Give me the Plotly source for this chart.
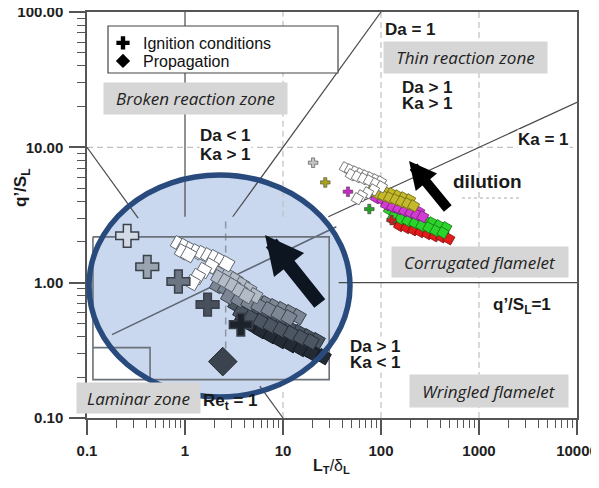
import plotly.graph_objects as go

# ---------------- data ----------------
# main diagram: ignition conditions (small coloured crosses)
ign_x = [20.3, 27, 46, 76, 128]
ign_y = [7.7, 5.5, 4.7, 3.5, 2.9]
ign_colors = ["#c4c4c4", "#a8a21c", "#c828c8", "#24a024", "#c82020"]

# main diagram: propagation bands
white_x = [43.3, 48.6, 54.7, 61.7, 69.4, 78.0, 87.9, 98.9, 49.8, 57.4, 66.2, 76.3, 87.9, 101, 83.8, 72.8, 63.1, 57.4]
white_y = [7.06, 6.82, 6.59, 6.37, 6.16, 5.96, 5.76, 5.56, 6.27, 6.06, 5.86, 5.66, 5.38, 5.11, 4.85, 4.61, 4.38, 4.17]
olive_x = [83.8, 96.5, 111, 128, 148, 170, 196, 92.0, 106, 122, 141, 162, 187, 215]
olive_y = [5.03, 4.85, 4.70, 4.54, 4.38, 4.24, 4.10, 4.54, 4.38, 4.24, 4.10, 3.96, 3.83, 3.70]
magenta_x = [89.9, 104, 119, 137, 158, 183, 210, 243, 114, 131, 151, 174, 201, 231, 267]
magenta_y = [4.24, 4.10, 3.96, 3.83, 3.70, 3.58, 3.46, 3.34, 3.77, 3.64, 3.52, 3.40, 3.29, 3.18, 3.07]
green_x = [122, 144, 170, 201, 237, 279, 330, 389, 459, 134, 158, 187, 221, 260, 307, 362, 428]
green_y = [3.46, 3.34, 3.23, 3.12, 3.02, 2.87, 2.77, 2.64, 2.55, 3.07, 2.97, 2.87, 2.77, 2.64, 2.55, 2.42, 2.34]
red_x = [134, 158, 187, 221, 260, 307, 362, 428, 155, 183, 215, 254, 300, 354, 418, 492]
red_y = [2.92, 2.82, 2.72, 2.64, 2.55, 2.46, 2.38, 2.30, 2.64, 2.55, 2.46, 2.38, 2.30, 2.22, 2.18, 2.11]

# magnified inset (as it appears on the diagram)
inset_ign_x = [0.257, 0.412, 0.857, 1.70, 3.71]
inset_ign_y = [2.22, 1.31, 1.02, 0.689, 0.490]
inset_ign_colors = ["#d3dbe7", "#9aa3b0", "#6c7582", "#48505c", "#1d232b"]
inset_prop_x = [2.43]
inset_prop_y = [0.261]
s1_x = [0.857, 0.989, 1.14, 1.31, 1.51, 1.74, 2.01, 2.31, 2.67, 0.942, 1.09, 1.83, 1.55, 1.34, 1.19]
s1_y = [1.94, 1.85, 1.75, 1.69, 1.64, 1.58, 1.53, 1.45, 1.38, 1.69, 1.61, 1.33, 1.23, 1.11, 1.00]
s2_x = [1.96, 2.31, 2.73, 3.22, 3.80, 4.48, 5.16, 2.21, 2.60, 3.07, 3.62, 4.27]
s2_y = [1.29, 1.21, 1.13, 1.05, 0.966, 0.887, 0.802, 1.09, 1.02, 0.951, 0.873, 0.802]
s3_x = [2.15, 2.60, 3.14, 3.80, 4.59, 5.54, 6.69, 8.09, 9.77, 11.8, 14.3, 2.79, 3.54, 4.48, 5.67, 7.18, 9.10, 11.5]
s3_y = [0.951, 0.904, 0.859, 0.815, 0.775, 0.736, 0.700, 0.665, 0.633, 0.601, 0.561, 0.789, 0.750, 0.711, 0.676, 0.633, 0.591, 0.552]
s4_x = [3.30, 4.07, 5.05, 6.24, 7.71, 9.53, 11.8, 14.6, 18.0, 22.3, 3.71, 4.70, 5.94, 7.53, 9.53, 12.1, 15.3, 19.4]
s4_y = [0.689, 0.643, 0.601, 0.561, 0.525, 0.490, 0.458, 0.428, 0.399, 0.373, 0.601, 0.552, 0.516, 0.482, 0.450, 0.421, 0.393, 0.367]
s5_x = [3.89, 4.81, 5.94, 7.36, 9.10, 11.2, 13.9, 17.2, 21.3, 25.7, 4.70, 5.94, 7.53, 9.53, 12.1, 15.3, 19.4]
s5_y = [0.552, 0.507, 0.466, 0.428, 0.393, 0.367, 0.343, 0.320, 0.299, 0.284, 0.490, 0.442, 0.406, 0.373, 0.348, 0.326, 0.304]

# regime boundary lines (segments visible around the inset)
re_up_x, re_up_y = [0.1, 0.333], [10, 3.0]
re_lo_x, re_lo_y = [5.8, 10], [0.172, 0.1]
da_x, da_y = [3.07, 100], [3.07, 100]
ka_x, ka_y = [29, 10000], [3.07, 21.54]
q1_x, q1_y = [37, 10000], [1, 1]
x1_x, x1_y = [1, 1], [3.07, 100]
# dashed reference lines
g10_up_x, g10_up_y = [10, 10], [3.07, 100]
g10_lo_x, g10_lo_y = [10, 10], [0.1, 0.157]
g100_x, g100_y = [100, 100], [0.1, 100]
g1000_x, g1000_y = [1000, 1000], [0.1, 100]
gy10_x, gy10_y = [0.1, 10000], [10, 10]
# inset decorations
inset_ka_x, inset_ka_y = [0.18, 35], [0.413, 2.59]
inset_dash_x, inset_dash_y = [2.6, 2.6], [0.217, 3.0]
inset_box_x = [0.115, 29.6, 29.6, 0.115, 0.115]
inset_box_y = [2.18, 2.18, 0.192, 0.192, 2.18]
inset_small_x = [0.115, 0.44, 0.44]
inset_small_y = [0.331, 0.331, 0.192]

x_ticks = [0.1, 1, 10, 100, 1000, 10000]
x_ticktext = ["0.1", "1", "10", "100", "1000", "10000"]
y_ticks = [0.1, 1, 10, 100]
y_ticktext = ["0.10", "1.00", "10.00", "100.00"]

# ---------------- figure ----------------
# the page body has an 8 px margin: the figure is drawn from (8, 8)
OFF = 8
W, H = 599, 488
L, R, T, B = 87, 577, 12, 418          # plot area in screen pixels


def px(v):
    return (v - L) / (R - L)


def py(v):
    return (B - v) / (B - T)


fig = go.Figure()


def add_line(xs, ys, color="#4a4a4a", width=1.2, dash="solid"):
    fig.add_trace(go.Scatter(x=xs, y=ys, mode="lines", hoverinfo="skip", showlegend=False,
                             line=dict(color=color, width=width, dash=dash)))


GRID = "#c0c0c0"
for gx, gy in [(g10_up_x, g10_up_y), (g10_lo_x, g10_lo_y), (g100_x, g100_y),
               (g1000_x, g1000_y), (gy10_x, gy10_y)]:
    add_line(gx, gy, GRID, 1.2, "6px,4px")

for lx, ly in [(re_up_x, re_up_y), (re_lo_x, re_lo_y), (da_x, da_y), (ka_x, ka_y),
               (q1_x, q1_y), (x1_x, x1_y)]:
    add_line(lx, ly, "#4a4a4a", 1.2)

# inset decorations
add_line(inset_dash_x, inset_dash_y, "#8d96a3", 1.5, "7px,5px")
add_line(inset_ka_x, inset_ka_y, "#5d6672", 1.6)
add_line(inset_box_x, inset_box_y, "#6b7178", 1.6)
add_line(inset_small_x, inset_small_y, "#6b7178", 1.6)


def add_band(xs, ys, fill, edge, size, lw=1.0):
    fig.add_trace(go.Scatter(x=xs, y=ys, mode="markers", showlegend=False, hoverinfo="skip",
                             marker=dict(symbol="square", angle=30, size=size, color=fill,
                                         line=dict(color=edge, width=lw))))


# inset bands (darkest first)
add_band(s5_x, s5_y, "#242a33", "#141920", 12)
add_band(s4_x, s4_y, "#4c5562", "#262c35", 12)
add_band(s3_x, s3_y, "#7c8694", "#3c434d", 12)
add_band(s2_x, s2_y, "#b3bbc7", "#59616c", 12)
add_band(s1_x, s1_y, "#ffffff", "#5f6670", 12)

fig.add_trace(go.Scatter(x=inset_prop_x, y=inset_prop_y, mode="markers", showlegend=False,
                         hoverinfo="skip",
                         marker=dict(symbol="diamond", size=22, color="#3b434e",
                                     line=dict(color="#262c35", width=1))))
fig.add_trace(go.Scatter(x=inset_ign_x, y=inset_ign_y, mode="markers", showlegend=False,
                         hoverinfo="skip",
                         marker=dict(symbol="cross", size=19, color=inset_ign_colors,
                                     line=dict(color="#3a414b", width=1.5))))

# main bands
add_band(red_x, red_y, "#e21b1b", "#7a0c0c", 9, 0.8)
add_band(green_x, green_y, "#2bd42b", "#137013", 9, 0.8)
add_band(magenta_x, magenta_y, "#d23bd2", "#6e1a6e", 9, 0.8)
add_band(olive_x, olive_y, "#c4b92a", "#6a6410", 9, 0.8)
add_band(white_x, white_y, "#ffffff", "#555555", 9, 0.8)

fig.add_trace(go.Scatter(x=ign_x, y=ign_y, mode="markers", showlegend=False, hoverinfo="skip",
                         marker=dict(symbol="cross", size=8, color=ign_colors,
                                     line=dict(color="#444444", width=0.6))))

# legend entries (one legend each, to control the row spacing)
fig.add_trace(go.Scatter(x=[None], y=[None], mode="markers", name="Ignition conditions",
                         legend="legend",
                         marker=dict(symbol="cross", size=11, color="#000")))
fig.add_trace(go.Scatter(x=[None], y=[None], mode="markers", name="Propagation",
                         legend="legend2",
                         marker=dict(symbol="diamond", size=11, color="#000")))

AX = "#555555"
fig.update_xaxes(type="log", range=[-1, 4], showgrid=False, zeroline=False, automargin=False,
                 showline=True, linecolor=AX, linewidth=1.5, mirror=True,
                 ticks="outside", ticklen=15, tickwidth=1.5, tickcolor=AX,
                 tickvals=x_ticks, ticktext=x_ticktext, ticklabelstandoff=3,
                 ticklabeloverflow="allow",
                 tickfont=dict(family="Liberation Sans", size=15, color="#1e1e1e", weight="bold"),
                 minor=dict(ticks="outside", ticklen=8, tickwidth=1.3, tickcolor=AX,
                            tickvals=[m * 10 ** e for e in range(-1, 4) for m in range(2, 10)]))
fig.update_yaxes(type="log", range=[-1, 2], showgrid=False, zeroline=False, automargin=False,
                 showline=True, linecolor=AX, linewidth=1.5, mirror=True,
                 ticks="outside", ticklen=16, tickwidth=1.5, tickcolor=AX,
                 tickvals=y_ticks, ticktext=y_ticktext, ticklabelstandoff=3,
                 ticklabeloverflow="allow",
                 tickfont=dict(family="Liberation Sans", size=15, color="#1e1e1e", weight="bold"),
                 minor=dict(ticks="outside", ticklen=8, tickwidth=1.3, tickcolor=AX,
                            tickvals=[m * 10 ** e for e in range(-1, 2) for m in range(2, 10)]))

shapes = [
    # inset lens (fill below the data, ring on top)
    dict(type="circle", xref="paper", yref="paper", x0=px(89), x1=px(350), y0=py(397), y1=py(175),
         fillcolor="#c9d8ee", line=dict(width=0), layer="below"),
    dict(type="circle", xref="paper", yref="paper", x0=px(89), x1=px(350), y0=py(397), y1=py(175),
         fillcolor="rgba(0,0,0,0)", line=dict(color="#284a7c", width=5.5), layer="above"),
    # legend frame
    dict(type="rect", xref="paper", yref="paper", x0=px(108), x1=px(338), y0=py(73), y1=py(26),
         fillcolor="white", line=dict(color="#444", width=1.2), layer="above"),
    # dotted trace under "dilution"
    dict(type="line", xref="paper", yref="paper", x0=px(462), x1=px(520), y0=py(198), y1=py(198),
         line=dict(color="#aaaaaa", width=1, dash="dot"), layer="above"),
]

annotations = []


def zone(text, x0, x1, y0, y1):
    annotations.append(dict(x=px((x0 + x1) / 2), y=py((y0 + y1) / 2), xref="paper", yref="paper",
                            xanchor="center", yanchor="middle",
                            text=text, showarrow=False, bgcolor="#d6d6d6",
                            width=x1 - x0, height=y1 - y0, borderpad=0,
                            font=dict(family="Open Sans", size=17, color="#222", style="italic")))


zone("Broken reaction zone", 104, 287, 83, 114)
zone("Thin reaction zone", 384, 547, 42, 73)
zone("Corrugated flamelet", 392, 568, 247, 277)
zone("Wringled flamelet", 410, 568, 375, 407)
zone("Laminar zone", 77, 200, 383, 413)


def label(text, x, y, size=17, bg="rgba(0,0,0,0)"):
    annotations.append(dict(x=px(x), y=py(y), xref="paper", yref="paper", text=text,
                            showarrow=False, xanchor="left", yanchor="middle", bgcolor=bg,
                            borderpad=0,
                            font=dict(family="Liberation Sans", size=size, color="#1a1a1a",
                                      weight="bold")))


label("Da = 1", 384, 29, bg="white")
label("Da > 1", 401, 87)
label("Ka > 1", 401, 104)
label("Ka = 1", 517, 139, bg="white")
label("Da < 1", 199, 136)
label("Ka > 1", 199, 155, bg="white")
label("Da > 1", 349, 346, bg="white")
label("Ka < 1", 349, 362, bg="white")
label("q’/S<sub>L</sub>=1", 492, 306)
label("Re<sub>t</sub> = 1", 202, 402)
label("dilution", 452, 181, size=19)

# axis titles
annotations.append(dict(x=px(22), y=py(188), xref="paper", yref="paper", text="q’/S<sub>L</sub>",
                        textangle=-90, showarrow=False, xanchor="center", yanchor="middle",
                        font=dict(family="Liberation Sans", size=17, color="#1a1a1a", weight="bold")))
annotations.append(dict(x=px(331), y=py(466), xref="paper", yref="paper",
                        xanchor="center", yanchor="middle",
                        text="<b>L</b><sub><b>T</b></sub>/δ<sub><b>L</b></sub>", showarrow=False,
                        font=dict(family="Liberation Sans", size=16, color="#1a1a1a")))

# dilution arrows
annotations.append(dict(x=px(265), y=py(235), xref="paper", yref="paper", text="",
                        showarrow=True, ax=56, ay=70, arrowhead=2, arrowsize=0.55,
                        arrowwidth=14, arrowcolor="#0d1620", standoff=0))
annotations.append(dict(x=px(409), y=py(161), xref="paper", yref="paper", text="",
                        showarrow=True, ax=40, ay=49, arrowhead=2, arrowsize=0.55,
                        arrowwidth=10, arrowcolor="#000000", standoff=0))

LEG_FONT = dict(family="Liberation Sans", size=16, color="#111")
fig.update_layout(
    width=W, height=H,
    margin=dict(l=L - OFF, r=W - (R - OFF), t=T - OFF, b=H - (B - OFF), autoexpand=False),
    paper_bgcolor="white", plot_bgcolor="rgba(0,0,0,0)",
    shapes=shapes, annotations=annotations,
    showlegend=True,
    legend=dict(x=px(103), y=py(26), xanchor="left", yanchor="top", bgcolor="rgba(0,0,0,0)",
                borderwidth=0, font=LEG_FONT),
    legend2=dict(x=px(103), y=py(44), xanchor="left", yanchor="top", bgcolor="rgba(0,0,0,0)",
                 borderwidth=0, font=LEG_FONT),
)

fig.write_html("out.html")
